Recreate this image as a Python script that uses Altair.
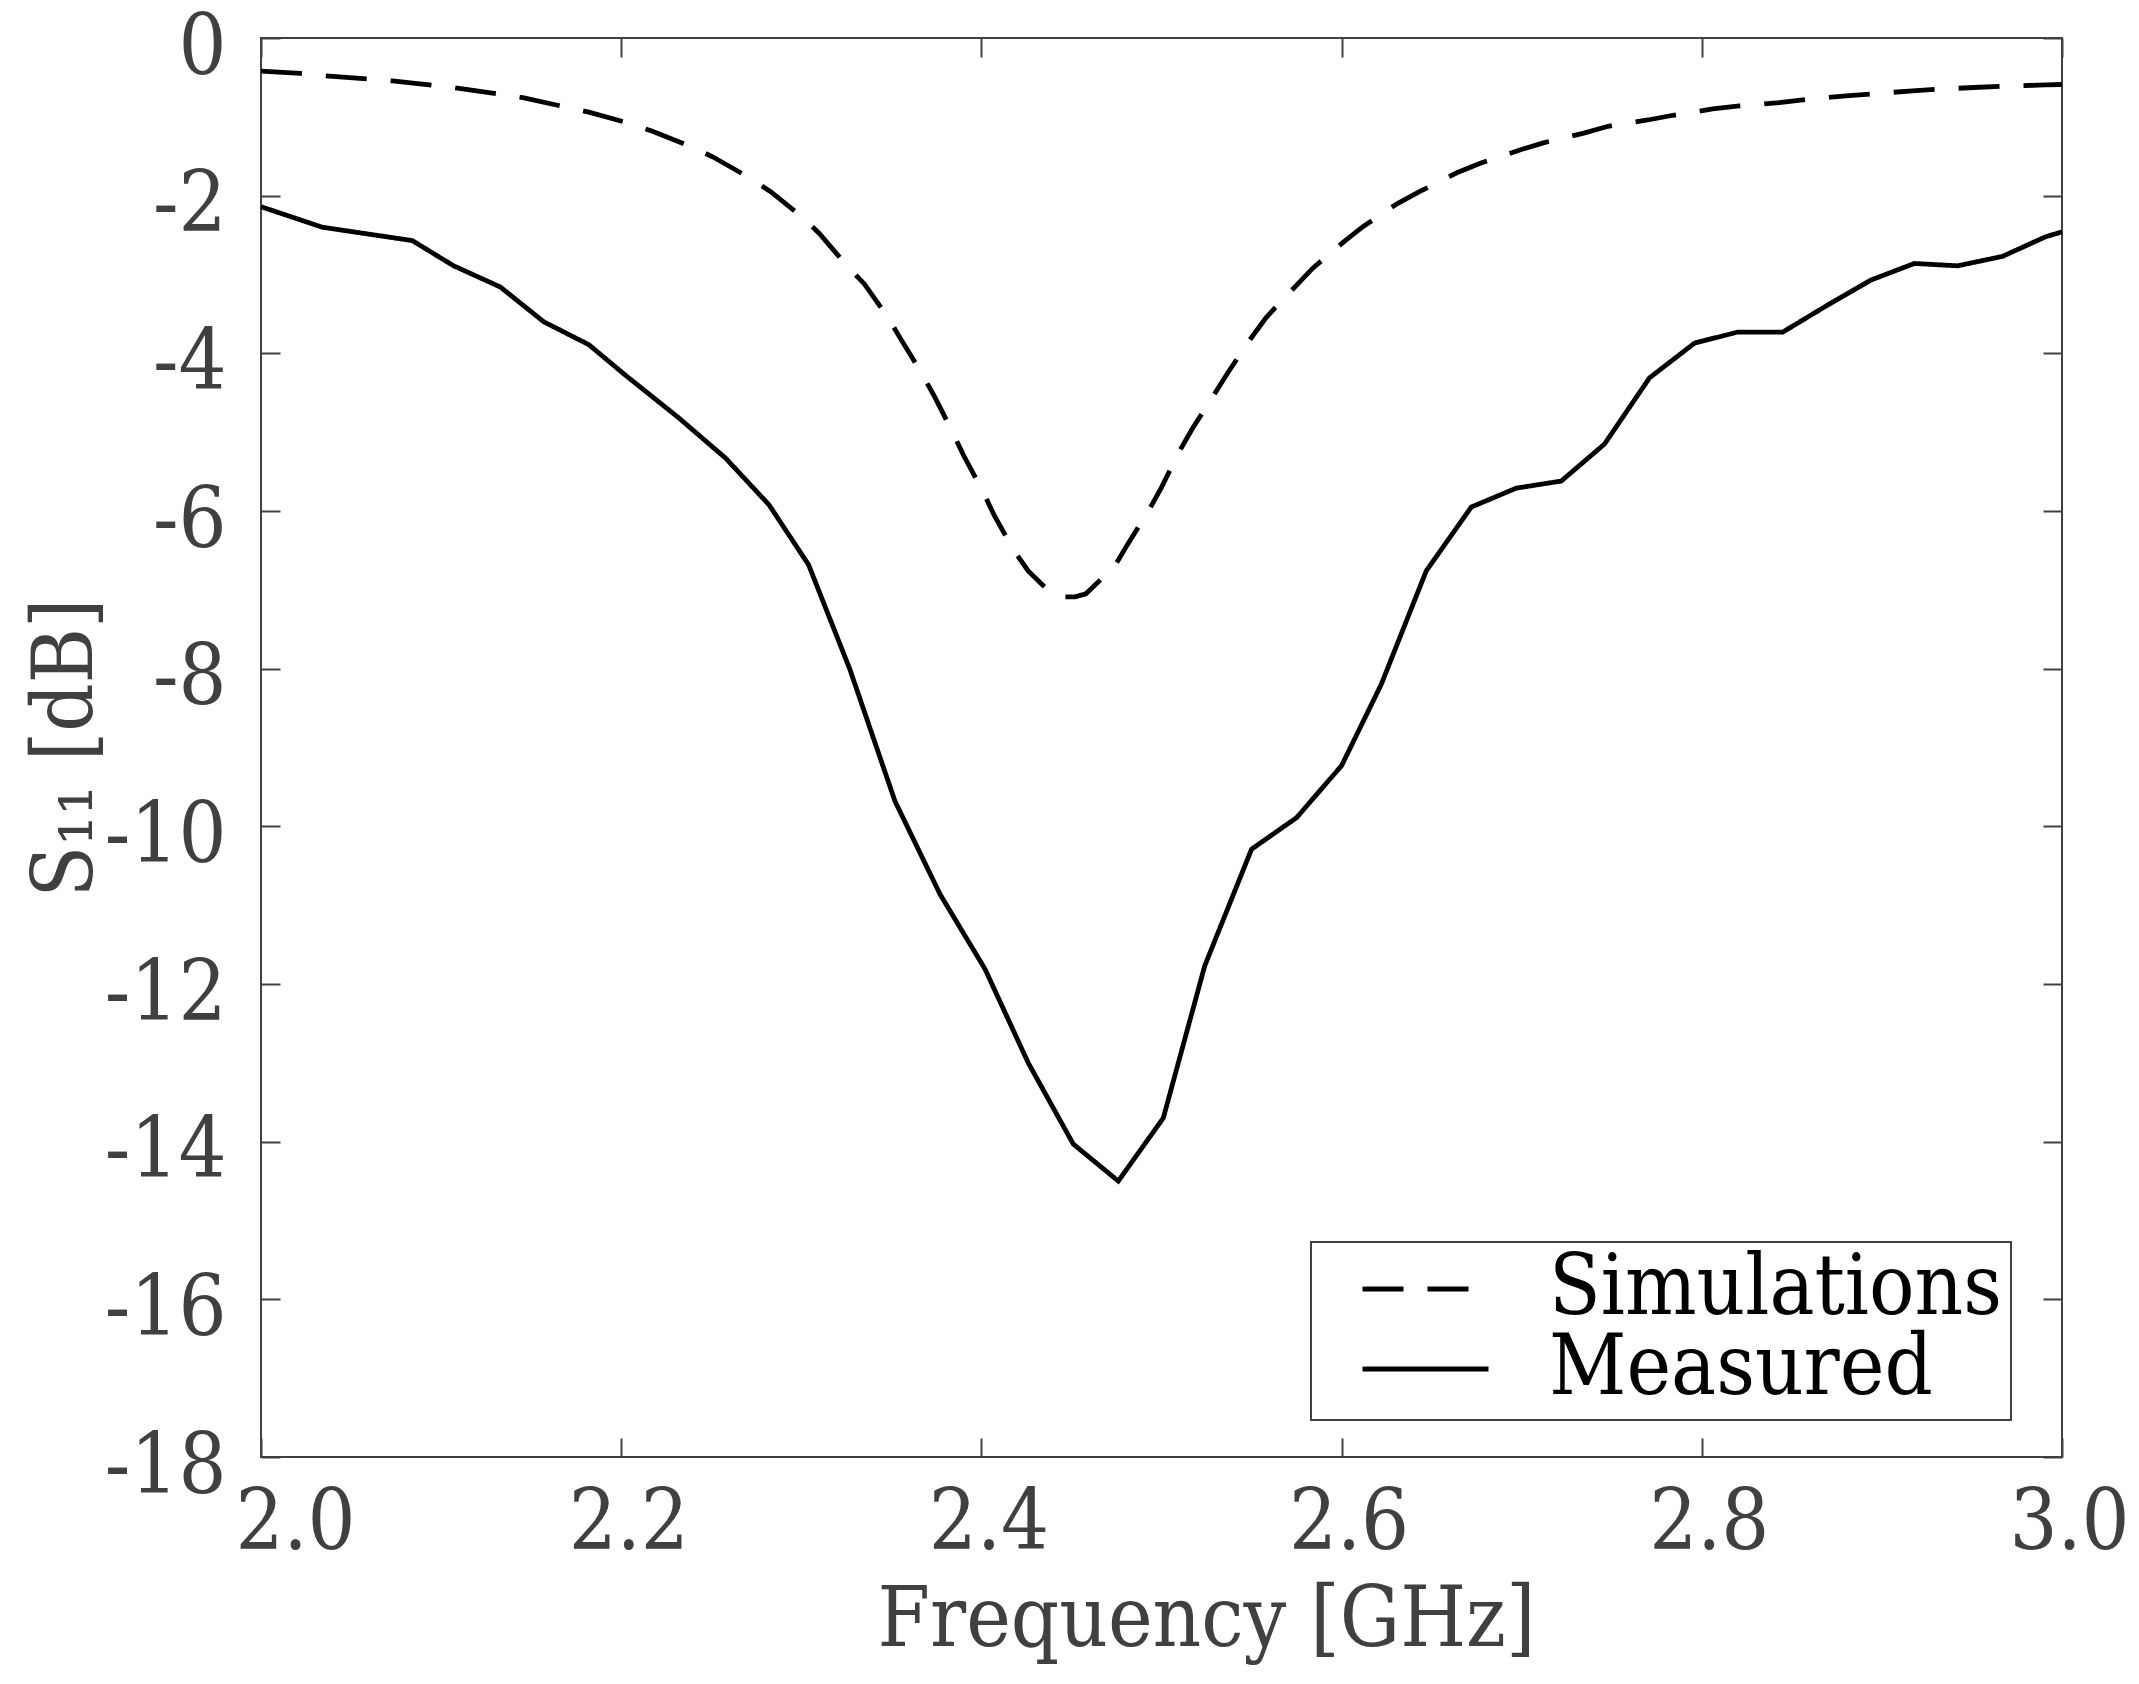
import altair as alt
import pandas as pd

# ---- data ----
sim_freq = [2.000, 2.022, 2.036, 2.059, 2.073, 2.096, 2.110, 2.132, 2.146, 2.168,
            2.182, 2.204, 2.217, 2.238, 2.251, 2.271, 2.283, 2.300, 2.310, 2.325,
            2.335, 2.348, 2.355, 2.367, 2.374, 2.384, 2.390, 2.401, 2.407, 2.418,
            2.426, 2.438, 2.446, 2.452, 2.458, 2.474, 2.481, 2.493, 2.500, 2.510,
            2.517, 2.529, 2.537, 2.549, 2.558, 2.566, 2.574, 2.584, 2.601, 2.612,
            2.631, 2.644, 2.664, 2.677, 2.699, 2.712, 2.734, 2.748, 2.770, 2.784,
            2.806, 2.821, 2.843, 2.858, 2.880, 2.894, 2.917, 2.931, 2.954, 2.968,
            2.991, 3.000]
sim_s11 = [-0.42, -0.45, -0.48, -0.52, -0.545, -0.60, -0.64, -0.71, -0.76, -0.87,
           -0.94, -1.08, -1.18, -1.37, -1.51, -1.77, -1.95, -2.26, -2.48, -2.88,
           -3.12, -3.54, -3.81, -4.26, -4.55, -5.00, -5.29, -5.76, -6.05, -6.50,
           -6.76, -7.03, -7.09, -7.09, -7.05, -6.70, -6.43, -5.99, -5.70, -5.24,
           -4.96, -4.53, -4.24, -3.83, -3.55, -3.35, -3.16, -2.92, -2.59, -2.39,
           -2.10, -1.94, -1.71, -1.59, -1.42, -1.33, -1.21, -1.12, -1.04, -0.98,
           -0.90, -0.86, -0.82, -0.78, -0.735, -0.71, -0.67, -0.65, -0.625, -0.61,
           -0.595, -0.59]

meas_freq = [2.000, 2.034, 2.084, 2.107, 2.133, 2.157, 2.182, 2.203, 2.232, 2.258,
             2.282, 2.304, 2.327, 2.352, 2.377, 2.402, 2.426, 2.451, 2.476, 2.501,
             2.524, 2.550, 2.575, 2.600, 2.622, 2.647, 2.672, 2.697, 2.722, 2.746,
             2.771, 2.796, 2.820, 2.845, 2.869, 2.894, 2.918, 2.942, 2.967, 2.991,
             3.000]
meas_s11 = [-2.14, -2.40, -2.57, -2.89, -3.16, -3.60, -3.89, -4.29, -4.82, -5.33,
            -5.92, -6.68, -8.01, -9.68, -10.86, -11.81, -13.00, -14.03, -14.50, -13.70,
            -11.77, -10.29, -9.89, -9.23, -8.20, -6.76, -5.95, -5.71, -5.62, -5.15,
            -4.31, -3.87, -3.73, -3.73, -3.40, -3.07, -2.86, -2.89, -2.77, -2.52,
            -2.46]

series_names = ["Simulations", "Measured"]
x_ticks = [2.0, 2.2, 2.4, 2.6, 2.8, 3.0]
y_ticks = [0, -2, -4, -6, -8, -10, -12, -14, -16, -18]

df = pd.concat([
    pd.DataFrame({"freq": sim_freq, "s11": sim_s11, "series": series_names[0]}),
    pd.DataFrame({"freq": meas_freq, "s11": meas_s11, "series": series_names[1]}),
], ignore_index=True)

FONT = "DejaVu Serif Condensed, DejaVu Serif, serif"
AX = "#404040"

x_scale = alt.Scale(domain=[2.0, 3.0], nice=False, zero=False)
y_scale = alt.Scale(domain=[-18, 0], nice=False, zero=False)

tick_common = dict(domain=False, grid=False, offset=-19, tickSize=19, tickWidth=2,
                   tickColor=AX, labelFont=FONT, labelFontSize=84, labelColor=AX,
                   titleFont=FONT, titleFontSize=84, titleColor=AX,
                   titleFontWeight="normal")

plain = {k: v for k, v in tick_common.items()
         if not k.startswith("label") and not k.startswith("title")}

lines = alt.Chart(df).mark_line(strokeWidth=4.8, color="black", strokeCap="butt").encode(
    x=alt.X("freq:Q", scale=x_scale,
            axis=alt.Axis(orient="bottom", values=x_ticks, format=".1f",
                          title="Frequency [GHz]", labelPadding=25, labelFlush=False,
                          labelOverlap=False,
                          labelOffset={"condition": {"test": "datum.value == 2", "value": 34}, "value": 7},
                          titleX=945, titleY=182, titleBaseline="middle", titleAlign="center",
                          **tick_common)),
    y=alt.Y("s11:Q", scale=y_scale,
            axis=alt.Axis(orient="left", values=y_ticks, labelExpr="'' + datum.value",
                          title="S₁₁ [dB]", labelPadding=35, labelOffset=10,
                          labelFlush=False, labelOverlap=False,
                          titleX=-214, titleY=709.5, titleBaseline="middle", titleAlign="center",
                          titleAngle=270,
                          **tick_common)),
    strokeDash=alt.StrokeDash(
        "series:N",
        scale=alt.Scale(domain=series_names, range=[[41, 24], [1, 0]]),
        legend=alt.Legend(orient="none", legendX=1050, legendY=1204, title=None,
                          labelFont=FONT, labelFontSize=84, labelColor="black",
                          labelLimit=2000, symbolType="stroke", symbolSize=15876,
                          symbolStrokeWidth=4.8, symbolStrokeColor="black",
                          symbolOffset=40, labelOffset=58, padding=9,
                          clipHeight=76, rowPadding=-28,
                          strokeColor=AX, fillColor="white"),
    ),
)

frame = alt.Chart(df).mark_line(opacity=0).encode(
    x=alt.X("freq:Q", scale=x_scale,
            axis=alt.Axis(orient="top", values=x_ticks, labels=False, title="", **plain)),
    y=alt.Y("s11:Q", scale=y_scale,
            axis=alt.Axis(orient="right", values=y_ticks, labels=False, title="", **plain)),
    detail="series:N",
)

chart = alt.layer(lines, frame).resolve_axis(x="independent", y="independent").properties(
    width=1801, height=1419, autosize="none",
    padding={"left": 253, "top": 30, "right": 69, "bottom": 219},
    background="white",
).configure_view(stroke=AX, strokeWidth=2).configure_legend(strokeWidth=2)

chart.save("out.html", embed_options={"renderer": "svg", "actions": False})
